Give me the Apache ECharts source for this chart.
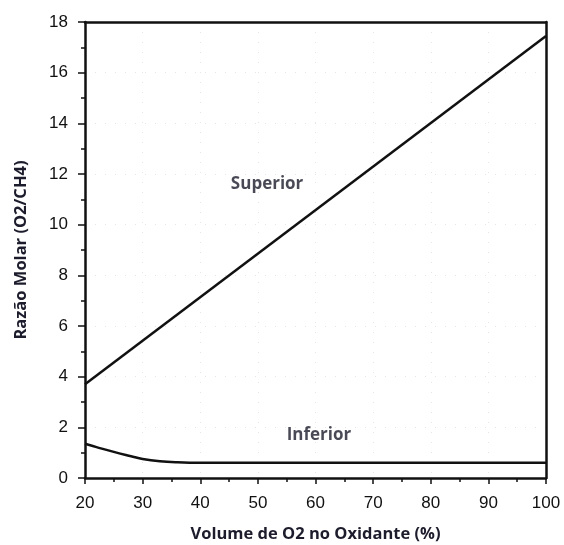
<!DOCTYPE html>
<html><head><meta charset="utf-8">
<script src="https://cdn.jsdelivr.net/npm/echarts@6/dist/echarts.min.js"></script>
<style>html,body{margin:0;padding:0;background:#fff}#c{width:564px;height:545px}</style>
</head><body><div id="c"></div>
<script>
const superiorX = [20, 100];
const superiorY = [3.7, 17.45];
const inferiorX = [20, 22, 25, 28, 30, 33, 36, 40, 60, 80, 100];
const inferiorY = [1.35, 1.22, 1.03, 0.86, 0.75, 0.66, 0.62, 0.6, 0.6, 0.6, 0.6];
const labelNames = ['Superior', 'Inferior'];
const labelX = [51.6, 60.6];
const labelY = [11.6, 1.7];
const xTicks = [20, 30, 40, 50, 60, 70, 80, 90, 100];
const yTicks = [0, 2, 4, 6, 8, 10, 12, 14, 16, 18];

const chart = echarts.init(document.getElementById('c'));
const tickFont = {fontFamily: 'Liberation Sans, Arial', fontSize: 17, color: '#111'};
const nameFont = {fontFamily: 'Open Sans', fontWeight: 'bold', fontSize: 16.5, color: '#1c1c2c'};
chart.setOption({
  animation: false,
  grid: {left: 85, right: 18, top: 22, bottom: 67, containLabel: false, outerBoundsMode: 'none'},
  xAxis: [{
    type: 'value', min: 20, max: 100, interval: 10,
    name: 'Volume de O2 no Oxidante (%)', nameLocation: 'middle', nameGap: 48,
    nameTextStyle: nameFont,
    axisLine: {lineStyle: {color: '#111', width: 2.5}},
    axisTick: {inside: false, length: 6, lineStyle: {color: '#111', width: 1.5}},
    minorTick: {show: true, splitNumber: 2, length: 4, lineStyle: {color: '#111', width: 1.5}},
    axisLabel: Object.assign({margin: 17, formatter: v => xTicks.includes(v) ? String(v) : ''}, tickFont),
    splitLine: {show: true, lineStyle: {color: '#e6e6e6', type: [1, 9], width: 1}}
  }, {
    type: 'value', min: 20, max: 100, position: 'top',
    axisLine: {show: true, onZero: false, lineStyle: {color: '#111', width: 2.5}},
    axisTick: {show: false}, axisLabel: {show: false}, splitLine: {show: false}
  }],
  yAxis: [{
    type: 'value', min: 0, max: 18, interval: 2,
    name: 'Razão Molar (O2/CH4)', nameLocation: 'middle', nameGap: 55,
    nameTextStyle: nameFont,
    axisLine: {show: true, lineStyle: {color: '#111', width: 2.5}},
    axisTick: {inside: false, length: 7, lineStyle: {color: '#111', width: 1.5}},
    minorTick: {show: true, splitNumber: 2, length: 4, lineStyle: {color: '#111', width: 1.5}},
    axisLabel: Object.assign({margin: 17, formatter: v => yTicks.includes(v) ? String(v) : ''}, tickFont),
    splitLine: {show: true, lineStyle: {color: '#e6e6e6', type: [1, 9], width: 1}}
  }, {
    type: 'value', min: 0, max: 18, position: 'right',
    axisLine: {show: true, onZero: false, lineStyle: {color: '#111', width: 2.5}},
    axisTick: {show: false}, axisLabel: {show: false}, splitLine: {show: false}
  }],
  series: [{
    type: 'line', name: 'Superior', showSymbol: false,
    data: superiorX.map((x, i) => [x, superiorY[i]]),
    lineStyle: {color: '#111', width: 2.5}
  }, {
    type: 'line', name: 'Inferior', showSymbol: false, smooth: 0.4,
    data: inferiorX.map((x, i) => [x, inferiorY[i]]),
    lineStyle: {color: '#111', width: 2.5}
  }, {
    type: 'scatter', symbolSize: 0,
    data: labelNames.map((n, i) => ({name: n, value: [labelX[i], labelY[i]]})),
    label: {show: true, position: 'inside', formatter: p => p.name,
      fontFamily: 'Open Sans', fontWeight: 'bold', fontSize: 17, color: '#1c1c2c'},
    silent: true
  }]
});
</script></body></html>
